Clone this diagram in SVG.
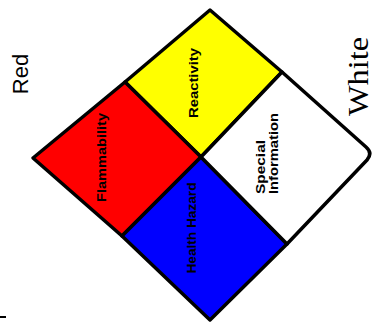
<svg xmlns="http://www.w3.org/2000/svg" width="375" height="322" viewBox="0 0 375 322">
<style>
.q{stroke:#000;stroke-width:3.5;stroke-linejoin:round}
.lbl{font-family:"Liberation Sans",Arial,sans-serif;font-size:12px;font-weight:bold;fill:#000}
</style>
<rect width="375" height="322" fill="#fff"/>
<g id="reactivity">
<polygon class="q" fill="#ffff00" points="210,10 282,72 201,157 125,82"/>
<text class="lbl" transform="translate(198,83) rotate(-90)" text-anchor="middle" textLength="70" lengthAdjust="spacingAndGlyphs">Reactivity</text>
</g>
<g id="flammability">
<polygon class="q" fill="#ff0000" points="125,82 201,157 122,236 33,158"/>
<text class="lbl" transform="translate(106,157.5) rotate(-90)" text-anchor="middle" textLength="89" lengthAdjust="spacingAndGlyphs">Flammability</text>
</g>
<g id="health">
<polygon class="q" fill="#0000ff" points="201,157 287,244 210,320 122,236"/>
<text class="lbl" transform="translate(196,228) rotate(-90)" text-anchor="middle" textLength="91" lengthAdjust="spacingAndGlyphs">Health Hazard</text>
</g>
<g id="special">
<path class="q" fill="#ffffff" d="M282,72 L366,147 Q373,153 367,160 L287,244 L201,157 Z"/>
<text class="lbl" transform="translate(265,194) rotate(-90)" textLength="54" lengthAdjust="spacingAndGlyphs">Special</text>
<text class="lbl" transform="translate(278,194) rotate(-90)" textLength="81" lengthAdjust="spacingAndGlyphs">Information</text>
</g>
<g id="labels">
<text transform="translate(28,74) rotate(-90)" text-anchor="middle" font-family="Liberation Sans, Arial, sans-serif" font-size="22" fill="#000">Red</text>
<text transform="translate(368,116) rotate(-90)" font-family="Liberation Serif, Times New Roman, serif" font-size="29" fill="#000" textLength="79" lengthAdjust="spacingAndGlyphs">White</text>
<line x1="0" y1="317" x2="6" y2="317" stroke="#000" stroke-width="2"/>
</g>
</svg>
